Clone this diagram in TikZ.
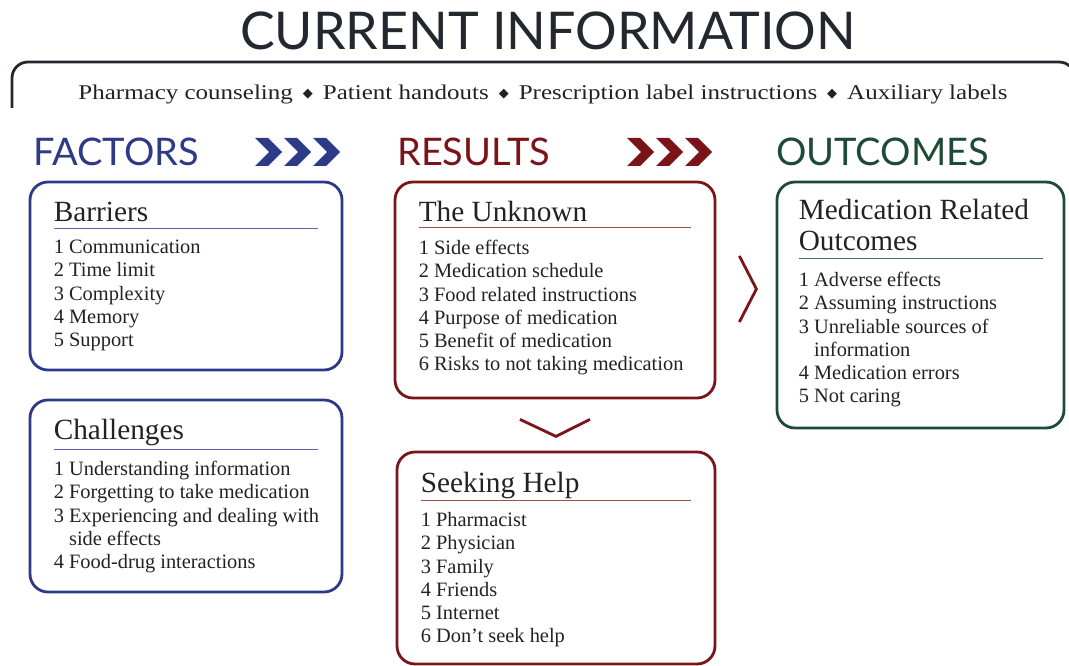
\documentclass[tikz,border=0pt]{standalone}
\usepackage{fontspec}
\setmainfont{Liberation Serif}
\newfontfamily\headfont{Lato}
\newfontfamily\symfont{DejaVu Sans}
\newfontfamily\barfont{Liberation Serif}[FakeStretch=1.19]

\definecolor{titlegray}{HTML}{23282E}
\definecolor{factorblue}{HTML}{2C3A87}
\definecolor{factorline}{HTML}{5C64AE}
\definecolor{resultred}{HTML}{7A1418}
\definecolor{resultline}{HTML}{A04A4E}
\definecolor{outgreen}{HTML}{1E4A36}
\definecolor{outline}{HTML}{4A6E5E}
\definecolor{bodytext}{HTML}{222222}

\newcommand\dotsep{\hspace{10pt}\raisebox{2.5pt}{\symfont\fontsize{13}{13}\selectfont ◆}\hspace{10pt}}

\tikzset{
  infobox/.style={draw, rounded corners=18pt, line width=2.8pt, inner sep=0pt},
  boxtitle/.style={anchor=north west, inner sep=0pt, text=bodytext,
    font=\fontsize{29.3}{31}\selectfont, align=left},
  itemlist/.style={anchor=north west, inner sep=0pt, text=bodytext,
    font=\fontsize{20.4}{23.2}\selectfont, align=left},
  column/.style={anchor=base west, inner sep=0pt, font=\headfont\fontsize{38}{44}\selectfont},
  chev/.style={line width=2.8pt, resultred}
}

\begin{document}
\begin{tikzpicture}[x=1pt,y=-1pt]
\useasboundingbox (0,0) rectangle (1069,666);
\clip (0,0) rectangle (1069,666);

\node [anchor=base, inner sep=0pt, text=titlegray,
  font=\headfont\fontsize{52}{60}\selectfont] (title) at (548,50) {CURRENT INFORMATION};

\draw [titlegray, line width=2.8pt, rounded corners=16pt]
  (12,108) -- (12,62) -- (1075,62) -- (1075,108);
\node [anchor=base, inner sep=0pt, text=bodytext, font=\barfont\fontsize{21}{24}\selectfont] (sources) at (543,100)
  {Pharmacy counseling\dotsep Patient handouts\dotsep Prescription label instructions\dotsep Auxiliary labels};

% column heads
\node [column, text=factorblue] (factors)  at (33,166)  {FACTORS};
\node [column, text=resultred]  (results)  at (397,166) {RESULTS};
\node [column, text=outgreen]   (outcomes) at (776,166) {OUTCOMES};

\foreach \i in {0,1,2} {
  \fill [factorblue, shift={(255+29*\i,138)}]
    (0,0) -- (13,0) -- (27,14) -- (13,28) -- (0,28) -- (14,14) -- cycle;
  \fill [resultred, shift={(627+29*\i,138)}]
    (0,0) -- (13,0) -- (27,14) -- (13,28) -- (0,28) -- (14,14) -- cycle;
}

% factors
\node [infobox, factorblue, minimum width=312pt, minimum height=188pt] (barriers) at (186,276) {};
\node [boxtitle] (barriershead) at ([shift={(25,41-21.7)}]barriers.north west) {\strut Barriers};
\draw [factorline, line width=1.6pt] ([shift={(25,48)}]barriers.north west) -- ([shift={(-25,48)}]barriers.north east);
\node [itemlist] (barrierslist) at ([shift={(25,73-16.3)}]barriers.north west)
  {\strut 1 Communication\\ 2 Time limit\\ 3 Complexity\\ 4 Memory\\ 5 Support};

\node [infobox, factorblue, minimum width=312pt, minimum height=192pt] (challenges) at (186,496) {};
\node [boxtitle] (challengeshead) at ([shift={(25,41-21.7)}]challenges.north west) {\strut Challenges};
\draw [factorline, line width=1.6pt] ([shift={(25,51)}]challenges.north west) -- ([shift={(-25,51)}]challenges.north east);
\node [itemlist] (challengeslist) at ([shift={(25,77-16.3)}]challenges.north west)
  {\strut 1 Understanding information\\ 2 Forgetting to take medication\\
   3 Experiencing and dealing with\\ \hphantom{3}~side effects\\ 4 Food-drug interactions};

% results
\node [infobox, resultred, minimum width=320pt, minimum height=216pt] (unknown) at (555,290) {};
\node [boxtitle] (unknownhead) at ([shift={(25,41-21.7)}]unknown.north west) {\strut The Unknown};
\draw [resultline, line width=1.6pt] ([shift={(25,47)}]unknown.north west) -- ([shift={(-25,47)}]unknown.north east);
\node [itemlist] (unknownlist) at ([shift={(25,74-16.3)}]unknown.north west)
  {\strut 1 Side effects\\ 2 Medication schedule\\ 3 Food related instructions\\
   4 Purpose of medication\\ 5 Benefit of medication\\ 6 Risks to not taking medication};

\node [infobox, resultred, minimum width=318pt, minimum height=212pt] (seeking) at (556,558) {};
\node [boxtitle] (seekinghead) at ([shift={(25,42-21.7)}]seeking.north west) {\strut Seeking Help};
\draw [resultline, line width=1.6pt] ([shift={(25,50)}]seeking.north west) -- ([shift={(-25,50)}]seeking.north east);
\node [itemlist] (seekinglist) at ([shift={(25,76-16.3)}]seeking.north west)
  {\strut 1 Pharmacist\\ 2 Physician\\ 3 Family\\ 4 Friends\\ 5 Internet\\ 6 Don’t seek help};

% outcomes
\node [infobox, outgreen, minimum width=287pt, minimum height=246pt] (medoutcomes) at (920.5,305) {};
\node [boxtitle] (medoutcomeshead) at ([shift={(23,39-21.7)}]medoutcomes.north west) {\strut Medication Related\\ Outcomes};
\draw [outline, line width=1.6pt] ([shift={(23,78)}]medoutcomes.north west) -- ([shift={(-22,78)}]medoutcomes.north east);
\node [itemlist] (medoutcomeslist) at ([shift={(23,106-16.3)}]medoutcomes.north west)
  {\strut 1 Adverse effects\\ 2 Assuming instructions\\ 3 Unreliable sources of\\
   \hphantom{3}~information\\ 4 Medication errors\\ 5 Not caring};

\draw [chev] ([shift={(23,-34)}]unknown.east) -- ([shift={(40,-1)}]unknown.east) -- ([shift={(23,32)}]unknown.east);
\draw [chev] ([shift={(-35,20)}]unknown.south) -- ([shift={(1,37)}]unknown.south) -- ([shift={(35,20)}]unknown.south);
\end{tikzpicture}
\end{document}
